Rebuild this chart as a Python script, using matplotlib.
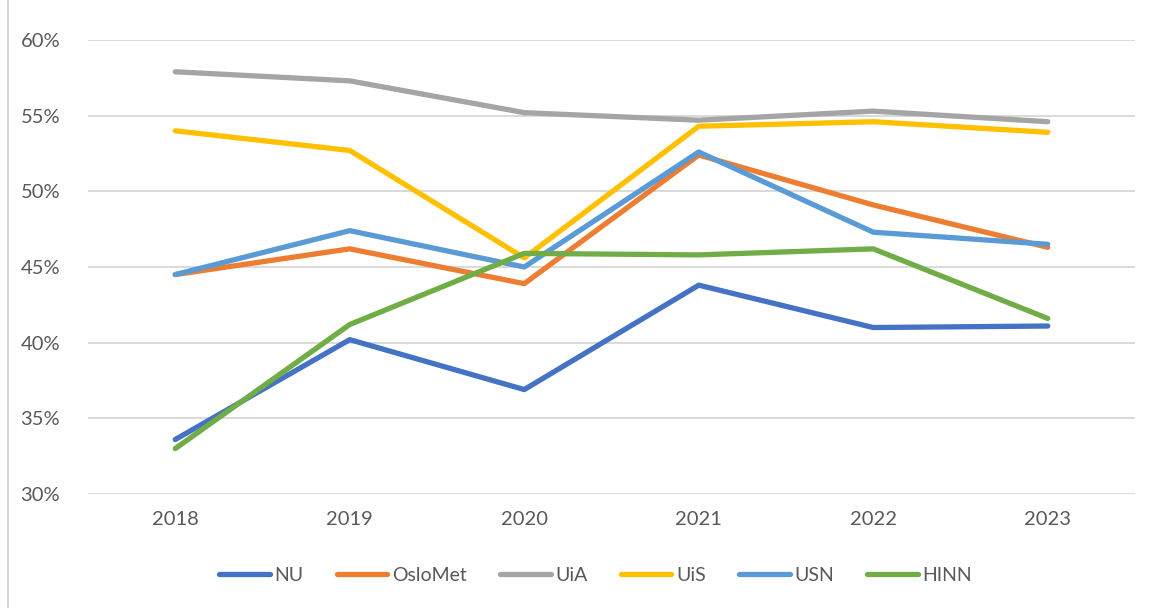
import matplotlib.pyplot as plt
from matplotlib.lines import Line2D
from matplotlib.ticker import FuncFormatter

plt.rcParams['font.family'] = ['Lato', 'DejaVu Sans']

years = ['2018', '2019', '2020', '2021', '2022', '2023']
nu = [33.6, 40.2, 36.9, 43.8, 41.0, 41.1]
oslomet = [44.5, 46.2, 43.9, 52.4, 49.1, 46.3]
uia = [57.9, 57.3, 55.2, 54.7, 55.3, 54.6]
uis = [54.0, 52.7, 45.6, 54.3, 54.6, 53.9]
usn = [44.5, 47.4, 45.0, 52.6, 47.3, 46.5]
hinn = [33.0, 41.2, 45.9, 45.8, 46.2, 41.6]

series = [
    ('NU', nu, '#4472C4'),
    ('OsloMet', oslomet, '#ED7D31'),
    ('UiA', uia, '#A5A5A5'),
    ('UiS', uis, '#FFC000'),
    ('USN', usn, '#5B9BD5'),
    ('HINN', hinn, '#70AD47'),
]

fig = plt.figure(figsize=(11.5, 6.08), dpi=100)
ax = fig.add_axes([88 / 1150, 1 - 494 / 608, (1135 - 88) / 1150, (494 - 40) / 608])

x = range(len(years))
for name, vals, col in series:
    ax.plot(x, vals, color=col, lw=3.8, label=name,
            solid_capstyle='round', solid_joinstyle='round')

ax.set_xlim(-0.5, 5.5)
ax.set_ylim(30, 60)
ax.set_yticks(range(30, 61, 5))
ax.yaxis.set_major_formatter(FuncFormatter(lambda v, p: f'{v:.0f}%'))
ax.set_xticks(list(x))
ax.set_xticklabels(years)
ax.grid(axis='y', color='#d9d9d9', lw=1.4)
ax.set_axisbelow(True)
for s in ax.spines.values():
    s.set_visible(False)
ax.tick_params(length=0, labelsize=14.5, colors='#595959', pad=12)
ax.tick_params(axis='y', pad=20)

leg = ax.legend(loc='center', bbox_to_anchor=(0.485, -0.18), ncol=6, frameon=False,
                fontsize=14, handlelength=2.6, columnspacing=1.7, handletextpad=0.25)
for t in leg.get_texts():
    t.set_color('#595959')

fig.add_artist(Line2D([8 / 1150, 8 / 1150], [0, 1], color='#d9d9d9', lw=1.5))

fig.savefig('out.png', dpi=100)
